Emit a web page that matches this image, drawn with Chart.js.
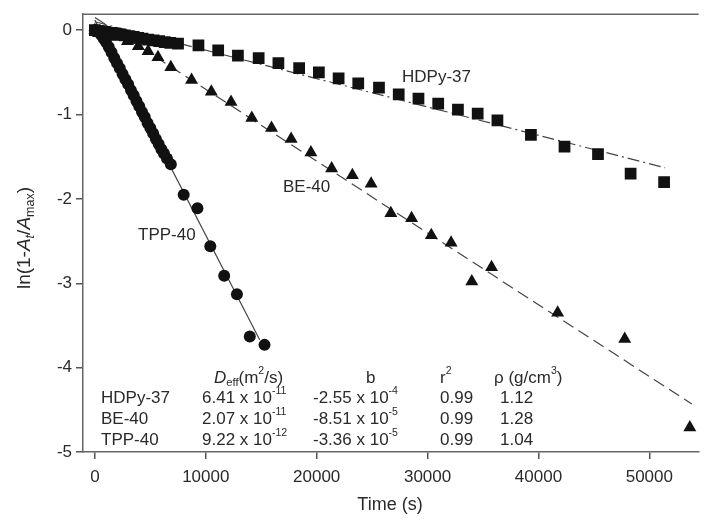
<!DOCTYPE html>
<html>
<head>
<meta charset="utf-8">
<script src="https://cdn.jsdelivr.net/npm/chart.js@4.4.1/dist/chart.umd.min.js"></script>
<style>
  html, body { margin: 0; padding: 0; background: #fff; }
</style>
</head>
<body>
<canvas id="myChart" width="707" height="525"></canvas>
<script>
// HDPy-37 (squares)
const hdpyX = [0, 300, 600, 900, 1200, 1500, 1900, 2300, 2700, 3100, 3500, 3900, 4300, 4800, 5300, 5800, 6300, 6800, 7500,
  9340, 11120, 12900, 14770, 16550, 18420, 20200, 21980, 23750, 25620, 27400, 29180, 30960, 32740, 34520, 36300, 39320, 42350, 45370, 48310, 51330]
const hdpyY = [0, -0.01, -0.01, -0.02, -0.03, -0.03, -0.04, -0.05, -0.06, -0.07, -0.08, -0.09, -0.10, -0.11, -0.12, -0.13, -0.14, -0.15, -0.16,
  -0.18, -0.24, -0.30, -0.33, -0.39, -0.45, -0.50, -0.57, -0.63, -0.68, -0.76, -0.81, -0.87, -0.94, -0.99, -1.07, -1.24, -1.38, -1.47, -1.70, -1.80]

// BE-40 (triangles)
const beX = [0, 890, 1870, 2940, 3920, 4800, 5690, 6850, 8720, 10500, 12280, 14150, 15930, 17700, 19480, 21350, 23220, 24910, 26690, 28560, 30340, 32120, 33990, 35770, 41730, 47780, 53650]
const beY = [0, -0.04, -0.08, -0.13, -0.19, -0.25, -0.32, -0.44, -0.59, -0.73, -0.85, -1.04, -1.16, -1.29, -1.45, -1.64, -1.72, -1.82, -2.17, -2.23, -2.43, -2.52, -2.98, -2.81, -3.35, -3.66, -4.71]

// TPP-40 (circles)
const tppX = [0, 200, 400, 600, 800, 1000, 1250, 1500, 1750, 2000, 2250, 2500, 2750, 3000, 3250, 3500, 3750, 4000, 4250, 4500, 4750, 5000, 5250, 5500, 5750, 6000, 6230, 6500, 6850,
  8010, 9250, 10410, 11660, 12810, 13970, 15300]
const tppY = [0, -0.01, -0.03, -0.06, -0.10, -0.14, -0.20, -0.26, -0.33, -0.39, -0.45, -0.52, -0.58, -0.64, -0.71, -0.77, -0.84, -0.90, -0.97, -1.03, -1.10, -1.16, -1.22, -1.29, -1.35, -1.41, -1.46, -1.52, -1.59,
  -1.95, -2.11, -2.56, -2.91, -3.13, -3.63, -3.73]

// fitted lines (start / end)
const hdpyFitX = [0, 51420]
const hdpyFitY = [0.10, -1.63]
const beFitX = [0, 53830]
const beFitY = [0.15, -4.43]
const tppFitX = [0, 14860]
const tppFitY = [0.12, -3.67]

const xTicks = [0, 10000, 20000, 30000, 40000, 50000]
const yTicks = [0, -1, -2, -3, -4, -5]

// table in the plot
const tableNames = ["HDPy-37", "BE-40", "TPP-40"]
const tableD = [["6.41 x 10", "-11"], ["2.07 x 10", "-11"], ["9.22 x 10", "-12"]]
const tableB = [["-2.55 x 10", "-4"], ["-8.51 x 10", "-5"], ["-3.36 x 10", "-5"]]
const tableR2 = ["0.99", "0.99", "0.99"]
const tableRho = ["1.12", "1.28", "1.04"]

const FONT = "'Liberation Sans', Arial, sans-serif"
const txtColor = "#2a2a2a"
const markColor = "#111"
const lineColor = "#444"

function pts(xs, ys) {
  return xs.map((x, i) => ({x: x, y: ys[i]}))
}

// draw text made of pieces, some superscript/subscript/italic
function rich(ctx, parts, x, y, size) {
  let cx = x
  parts.forEach(p => {
    let s = size, dy = 0
    if (p.sup) { s = size * 0.62; dy = -size * 0.42 }
    if (p.sub) { s = size * 0.66; dy = size * 0.3 }
    ctx.font = (p.it ? "italic " : "") + s + "px " + FONT
    ctx.fillText(p.t, cx, y + dy)
    cx += ctx.measureText(p.t).width
  })
  return cx - x
}

const textPlugin = {
  id: "texts",
  afterDraw: chart => {
    const ctx = chart.ctx
    const ca = chart.chartArea
    ctx.save()
    // top frame line
    ctx.strokeStyle = "#666"
    ctx.lineWidth = 1.5
    ctx.beginPath()
    ctx.moveTo(ca.left, ca.top)
    ctx.lineTo(ca.right, ca.top)
    ctx.stroke()

    ctx.fillStyle = txtColor
    ctx.textBaseline = "middle"
    ctx.textAlign = "left"
    ctx.font = "17px " + FONT
    ctx.fillText("HDPy-37", 402, 77)
    ctx.fillText("BE-40", 283, 187)
    ctx.fillText("TPP-40", 138, 235)

    // table
    const fs = 17
    rich(ctx, [{t: "D", it: true}, {t: "eff", sub: true}, {t: "(m"}, {t: "2", sup: true}, {t: "/s)"}], 214, 378, fs)
    rich(ctx, [{t: "b"}], 366, 378, fs)
    rich(ctx, [{t: "r"}, {t: "2", sup: true}], 440, 378, fs)
    rich(ctx, [{t: "\u03c1 (g/cm"}, {t: "3", sup: true}, {t: ")"}], 494, 378, fs)
    for (let i = 0; i < tableNames.length; i++) {
      const yy = 398 + i * 21
      rich(ctx, [{t: tableNames[i]}], 101, yy, fs)
      rich(ctx, [{t: tableD[i][0]}, {t: tableD[i][1], sup: true}], 202, yy, fs)
      rich(ctx, [{t: tableB[i][0]}, {t: tableB[i][1], sup: true}], 313, yy, fs)
      rich(ctx, [{t: tableR2[i]}], 440, yy, fs)
      rich(ctx, [{t: tableRho[i]}], 500, yy, fs)
    }

    // x title
    ctx.textAlign = "center"
    ctx.font = "18px " + FONT
    ctx.fillText("Time (s)", 390, 505)

    // y title (rotated)
    ctx.translate(25, 238)
    ctx.rotate(-Math.PI / 2)
    const parts = [{t: "ln(1-"}, {t: "A", it: true}, {t: "t", sub: true, it: true}, {t: "/"}, {t: "A", it: true}, {t: "max", sub: true}, {t: ")"}]
    ctx.textAlign = "left"
    ctx.globalAlpha = 0
    const w = rich(ctx, parts, 0, 0, 19)
    ctx.globalAlpha = 1
    rich(ctx, parts, -w / 2, 0, 19)
    ctx.restore()
  }
}

const data = {
  datasets: [
    {
      type: "scatter",
      data: pts(hdpyX, hdpyY),
      pointStyle: "rect",
      pointRadius: 8.3,
      backgroundColor: markColor,
      borderColor: markColor,
      borderWidth: 0
    },
    {
      type: "scatter",
      data: pts(beX, beY),
      pointStyle: "triangle",
      pointRadius: 7.5,
      backgroundColor: markColor,
      borderColor: markColor,
      borderWidth: 0
    },
    {
      type: "scatter",
      data: pts(tppX, tppY),
      pointStyle: "circle",
      pointRadius: 6,
      backgroundColor: markColor,
      borderColor: markColor,
      borderWidth: 0
    },
    {
      type: "line",
      data: pts(hdpyFitX, hdpyFitY),
      borderColor: lineColor,
      borderWidth: 1.2,
      borderDash: [12, 4, 2, 4],
      pointRadius: 0,
      fill: false
    },
    {
      type: "line",
      data: pts(beFitX, beFitY),
      borderColor: lineColor,
      borderWidth: 1.2,
      borderDash: [12, 6],
      pointRadius: 0,
      fill: false
    },
    {
      type: "line",
      data: pts(tppFitX, tppFitY),
      borderColor: lineColor,
      borderWidth: 1.2,
      pointRadius: 0,
      fill: false
    }
  ]
}

const config = {
  type: "scatter",
  data,
  options: {
    responsive: false,
    animation: false,
    layout: { padding: { left: 0, right: 0, top: 12, bottom: 0 } },
    plugins: {
      legend: { display: false },
      tooltip: { enabled: false }
    },
    scales: {
      x: {
        type: "linear",
        position: "bottom",
        min: -1070,
        max: 54450,
        afterFit: s => { s.height = 73 },
        afterBuildTicks: s => { s.ticks = xTicks.map(v => ({value: v})) },
        grid: { drawOnChartArea: false, drawTicks: true, tickLength: 7, color: "#555", lineWidth: 1.5 },
        border: { display: true, color: "#666", width: 1.5 },
        ticks: {
          color: txtColor,
          font: { size: 17, family: FONT },
          padding: 8,
          maxRotation: 0,
          callback: v => String(v)
        }
      },
      y: {
        type: "linear",
        min: -5,
        max: 0.19,
        afterFit: s => { s.width = 83 },
        afterBuildTicks: s => { s.ticks = yTicks.map(v => ({value: v})) },
        grid: { drawOnChartArea: false, drawTicks: true, tickLength: 7, color: "#555", lineWidth: 1.5 },
        border: { display: true, color: "#666", width: 1.5 },
        ticks: {
          color: txtColor,
          font: { size: 17, family: FONT },
          padding: 4,
          callback: v => String(v)
        }
      }
    }
  },
  plugins: [textPlugin]
}

const myChart = new Chart(document.getElementById("myChart"), config)
</script>
</body>
</html>
